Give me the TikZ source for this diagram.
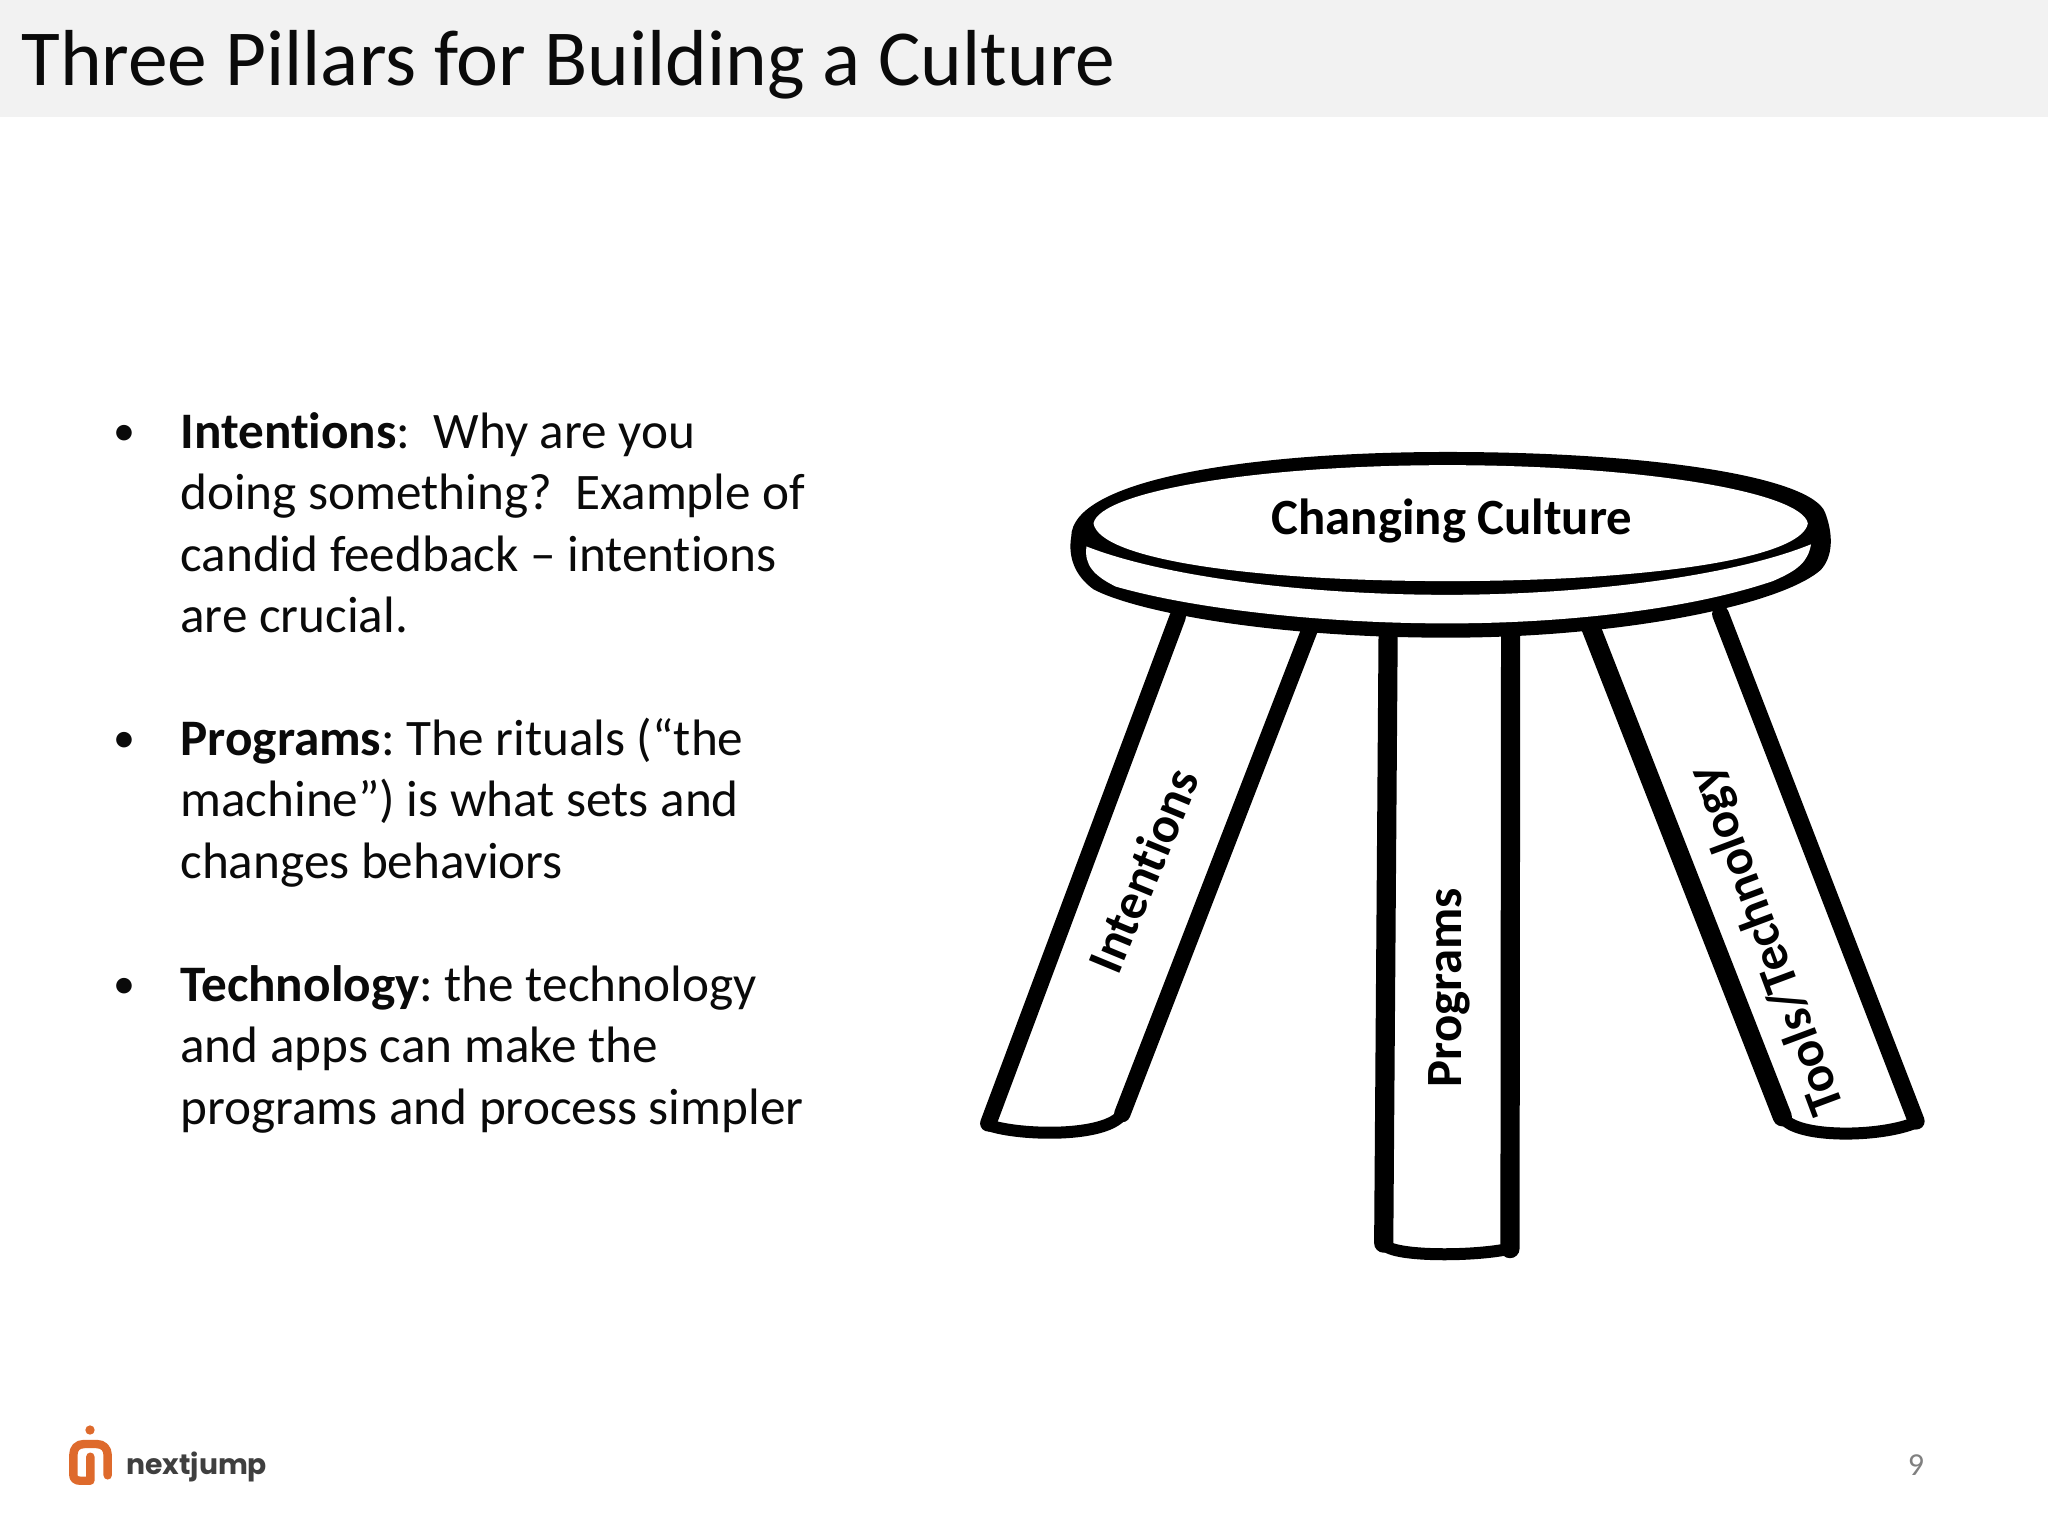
\documentclass[tikz,border=0pt]{standalone}
\usepackage{fontspec}
\setmainfont{Carlito}[Ligatures={TeX,NoCommon}]
\newfontfamily\logofont{Poppins}
\definecolor{barbg}{HTML}{F2F2F2}
\definecolor{inkc}{HTML}{0A0A0A}
\definecolor{logoorange}{HTML}{DE6A2C}
\definecolor{logogray}{HTML}{3F3F3F}
\definecolor{pagegray}{HTML}{808080}
\tikzset{
  bodyline/.style={anchor=base west,inner sep=0pt,font=\fontsize{25.6}{25.6}\selectfont,text=inkc},
  bulletmark/.style={anchor=base,inner sep=0pt,font=\fontsize{22}{22}\selectfont,text=inkc},
  legline/.style={draw=black,line width=#1,line cap=round,line join=round},
  legfoot/.style={draw=black,line width=6pt,line cap=round,line join=round},
  leglabel/.style={inner sep=0pt,font=\fontsize{25.4}{25.4}\selectfont\bfseries,text=black},
}
\begin{document}
\begin{tikzpicture}[x=0.5pt,y=-0.5pt]
\useasboundingbox (0,0) rectangle (2048,1536);
\fill[white] (0,0) rectangle (2048,1536);
\fill[barbg] (0,0) rectangle (2048,117);
\node[anchor=base west,inner sep=0pt,font=\fontsize{39.7}{39.7}\selectfont,text=inkc] (title) at (21,86) {Three Pillars for Building a Culture};

\node[bulletmark] (b1) at (124,445) {•};
\node[bodyline] (l1) at (180,448) {\textbf{Intentions}:\ \ Why are you};
\node[bodyline] (l2) at (180,509.5) {doing something?\ \ Example of};
\node[bodyline] (l3) at (180,571) {candid feedback – intentions};
\node[bodyline] (l4) at (180,632.5) {are crucial.};
\node[bulletmark] (b2) at (124,752) {•};
\node[bodyline] (l5) at (180,755) {\textbf{Programs}:\hspace{-2pt} The rituals (“the};
\node[bodyline] (l6) at (180,816.5) {machine”) is what sets and};
\node[bodyline] (l7) at (180,878) {changes behaviors};
\node[bulletmark] (b3) at (124,998) {•};
\node[bodyline] (l8) at (180,1001) {\textbf{Technology}:\hspace{-2pt} the technology};
\node[bodyline] (l9) at (180,1062.5) {and apps can make the};
\node[bodyline] (l10) at (180,1124) {programs and process simpler};

\begin{scope}[shift={(950,430)},x=0.3189pt,y=-0.2747pt]
  % legs
  \fill[white] (357,340) -- (60,1262) -- (265,1262) -- (565,360) -- cycle;
  \draw[legline=8.2pt] (357,340) -- (60,1262);
  \draw[legline=8.2pt] (565,360) -- (270,1245);
  \draw[legfoot] (60,1265) .. controls (110,1285) and (245,1288) .. (270,1245);
  \draw[legline=9.6pt] (687,360) -- (680,1480);
  \draw[legline=9.6pt] (879,360) -- (878,1490);
  \draw[legfoot] (680,1480) .. controls (685,1505) and (820,1505) .. (878,1490);
  \draw[legline=9.6pt] (1005,360) -- (1305,1250);
  \draw[legline=8.4pt] (1208,335) -- (1515,1258);
  \draw[legfoot] (1305,1250) .. controls (1325,1290) and (1460,1288) .. (1515,1260);
  % seat
  \fill[black] (190,195) .. controls (190,90) and (470,40) .. (780,40) .. controls (1100,40) and (1350,85) .. (1372,150)
     .. controls (1385,190) and (1385,230) .. (1365,255) .. controls (1300,320) and (1050,378) .. (780,378)
     .. controls (500,378) and (290,330) .. (225,290) .. controls (195,265) and (185,230) .. (190,195) -- cycle;
  \fill[white] (214,212) .. controls (330,265) and (550,300) .. (780,300) .. controls (1000,300) and (1230,265) .. (1350,208)
     .. controls (1345,240) and (1330,255) .. (1290,275) .. controls (1150,330) and (950,352) .. (780,352)
     .. controls (580,352) and (380,325) .. (260,285) .. controls (225,265) and (210,245) .. (214,212) -- cycle;
  \fill[white] (225,170) .. controls (235,112) and (480,64) .. (780,64) .. controls (1080,64) and (1335,112) .. (1345,170)
     .. controls (1335,235) and (1090,275) .. (780,275) .. controls (470,275) and (235,235) .. (225,170) -- cycle;
  \node[leglabel] (seat) at (787,166) {Changing Culture};
  \node[leglabel,rotate=67.5] (intentions) at (303,802) {Intentions};
  \node[leglabel,rotate=90] (programs) at (783,1015) {Programs};
  \node[leglabel,rotate=110.5] (tools) at (1282,928) {Tools/Technology};
\end{scope}

% logo
\begin{scope}[shift={(40,1400)},x=0.1667pt,y=-0.1667pt]
  \fill[logoorange] (150,90) circle[radius=14];
  \draw[logoorange,line width=4.2pt,line join=round,line cap=round] (203,226) -- (203,165) .. controls (203,145) and (190,132) .. (170,132) -- (132,132) .. controls (112,132) and (100,145) .. (100,165) -- (100,225) .. controls (100,236) and (108,242) .. (120,242) -- (151,242) -- (151,170);
  \node[anchor=base west,inner sep=0pt,font=\logofont\fontsize{14.1}{14.1}\selectfont\bfseries,text=logogray] (logo) at (258,222) {nextjump};
\end{scope}

\node[anchor=base,inner sep=0pt,font=\fontsize{16}{16}\selectfont,text=pagegray] (pageno) at (1916,1475) {9};
\end{tikzpicture}
\end{document}
